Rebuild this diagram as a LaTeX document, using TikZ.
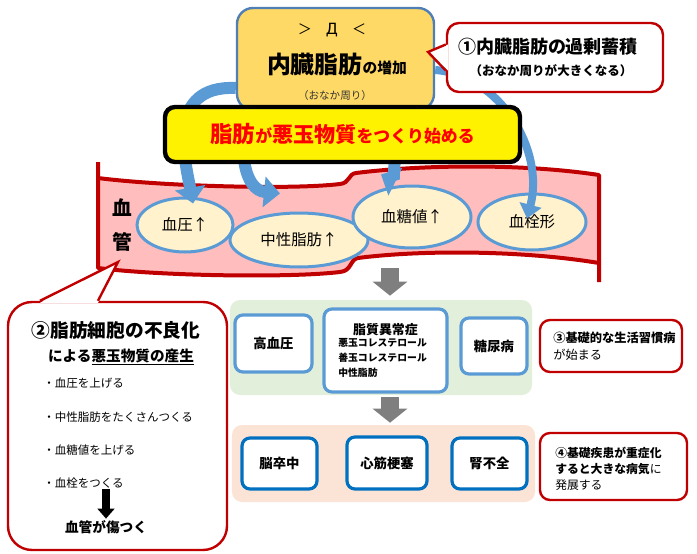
\documentclass[tikz,border=0pt]{standalone}
\usepackage{fontspec}
\setmainfont{Noto Sans CJK JP}
\newfontfamily\cyrfont{DejaVu Sans}
\usetikzlibrary{
    arrows.meta,
    positioning,
    shapes.geometric
}

\definecolor{fatyellow}{HTML}{FFD966}
\definecolor{fatedge}{HTML}{4F7FB5}
\definecolor{alertred}{HTML}{C00000}
\definecolor{vesselpink}{HTML}{FFBDBD}
\definecolor{spotfill}{HTML}{FFF2CC}
\definecolor{spotblue}{HTML}{5B9BD5}
\definecolor{arrowblue}{HTML}{5B9BD5}
\definecolor{greenpanel}{HTML}{E2EFDA}
\definecolor{orangepanel}{HTML}{FBE4D5}
\definecolor{deepblue}{HTML}{0070C0}
\definecolor{downgray}{HTML}{7F7F7F}

\newcommand{\fsz}[1]{\fontsize{#1}{#1}\selectfont}

\begin{document}
\begin{tikzpicture}[
    x=0.25mm, y=-0.25mm,
    spot/.style={
        ellipse,
        draw=spotblue,
        line width=0.75mm,
        fill=spotfill,
        inner sep=0pt,
        font=\fsz{11}
    },
    sickbox/.style={
        rectangle,
        rounded corners=2mm,
        draw=spotblue,
        line width=0.8mm,
        fill=white,
        inner sep=0pt,
        font=\fsz{9.5}\bfseries
    },
    panel/.style={
        rectangle,
        rounded corners=2.5mm,
        inner sep=0pt
    },
    callout/.style={
        rectangle,
        rounded corners=3mm,
        draw=alertred,
        line width=0.6mm,
        fill=white,
        inner sep=0pt
    },
    alertline/.style={
        draw=alertred,
        line width=0.6mm,
        line join=miter
    },
    bluearrow/.style={
        draw=arrowblue,
        line width=3mm,
        -{Triangle[width=7.5mm,length=4mm]}
    },
    grayarrow/.style={
        draw=downgray,
        line width=4.5mm,
        -{Triangle[width=8.5mm,length=3.5mm]}
    },
    blackarrow/.style={
        draw=black,
        line width=2mm,
        -{Triangle[width=4.2mm,length=2.5mm]}
    },
    note/.style={
        inner sep=0pt,
        anchor=west,
        font=\fsz{8.2}
    },
    lipidline/.style={
        inner sep=0pt,
        anchor=west,
        font=\fsz{7}\bfseries
    }
]
\useasboundingbox (0,0) rectangle (697,554);

% =========================================================
% Blood vessel
% =========================================================
\fill[vesselpink] (98,178) .. controls (160,186) and (290,190) .. (340,184)
    .. controls (350,183) and (348,174) .. (356,173)
    .. controls (420,165) and (520,163) .. (599,175) -- (599,263)
    .. controls (520,250) and (420,250) .. (358,258)
    .. controls (350,259) and (352,271) .. (340,272)
    .. controls (290,278) and (160,276) .. (98,268) -- cycle;
\draw[alertred, line width=1mm, line join=round] (98,162) -- (98,178)
    .. controls (160,186) and (290,190) .. (340,184)
    .. controls (350,183) and (348,174) .. (356,173)
    .. controls (420,165) and (520,163) .. (599,175) -- (599,282);
\draw[alertred, line width=1mm, line join=round] (599,263)
    .. controls (520,250) and (420,250) .. (358,258)
    .. controls (350,259) and (352,271) .. (340,272)
    .. controls (290,278) and (160,276) .. (98,268) -- (98,178);

\node[font=\fsz{14}\bfseries, align=center, inner sep=0pt] (vesselname) at (122,225)
{血\\[10.5pt]管};
\coordinate (vesseltip) at (118,262);

\node[spot, minimum width=24mm, minimum height=13.5mm] (bp) at (185,225) {血圧↑};
\node[spot, minimum width=34.5mm, minimum height=13.5mm] (tg) at (299,240) {中性脂肪↑};
\node[spot, minimum width=29.5mm, minimum height=15.5mm] (bs) at (412,217) {血糖値↑};
\node[spot, minimum width=27mm, minimum height=14mm] (clot) at (532,222) {血栓形};

% =========================================================
% Visceral fat and its arrows
% =========================================================
\coordinate (fatcenter) at (335.5,59);

\draw[bluearrow] ([shift={(-83,40)}]fatcenter) .. controls (235,150) and (245,190) .. ([shift={(-19,-18)}]tg.north);
\draw[bluearrow] ([shift={(62,50)}]fatcenter) .. controls (397,150) and (392,180) .. ([shift={(-31,-10)}]bs.north);

\node[rectangle, rounded corners=4mm, draw=fatedge, line width=0.6mm, fill=fatyellow,
    minimum width=49.25mm, minimum height=25.5mm, inner sep=0pt] (fatbox) at (fatcenter) {};

\draw[bluearrow] ([shift={(0,29)}]fatbox.west) .. controls (165,85) and (185,160) .. ([shift={(8,7)}]bp.north);
\draw[bluearrow, line width=2mm, -{Triangle[width=5.5mm,length=3.5mm]}] ([shift={(0,11)}]fatbox.east) .. controls (500,75) and (545,150) .. ([shift={(-5,26)}]clot.north);

\node[font=\fsz{10}, inner sep=0pt] (face) at (332,30) {＞　{\cyrfont\fsz{11}Д}　＜};
\node[font=\bfseries, inner sep=0pt] (fatgain) at (337,64)
{{\fsz{17}内臓脂肪}{\fsz{10.5}の増加}};
\node[font=\fsz{7.5}, text=black!80, inner sep=0pt] (belly) at (335,95) {（おなか周り）};

\node[rectangle, rounded corners=2.5mm, draw=black, line width=1.1mm, fill=yellow,
    minimum width=88.75mm, minimum height=13.75mm, inner sep=0pt, text=red,
    font=\bfseries] (badstuff) at (342.5,134.5)
{{\fsz{16}脂肪}{\fsz{12}が}{\fsz{15}悪玉物質}{\fsz{12}をつくり始める}};

% =========================================================
% Callout 1: fat accumulation
% =========================================================
\coordinate (fattip) at (428,52);
\node[callout, minimum width=54mm, minimum height=17.25mm] (excess) at (555,57.5) {};
\fill[white] ([shift={(2,-13)}]excess.west) -- (fattip) -- ([shift={(2,13)}]excess.west) -- cycle;
\draw[alertline] ([shift={(0,-13)}]excess.west) -- (fattip) -- ([shift={(0,13)}]excess.west);
\node[font=\fsz{12.8}\bfseries, inner sep=0pt] (excesstitle) at (548,47) {①内臓脂肪の過剰蓄積};
\node[font=\fsz{8.9}\bfseries, inner sep=0pt] (excessnote) at (551,71) {（おなか周りが大きくなる）};

% =========================================================
% Callout 2: bad substances
% =========================================================
\node[callout, rounded corners=6mm, minimum width=54.75mm, minimum height=62mm] (badcells) at (117.5,426) {};
\fill[white] ([shift={(-77.5,2)}]badcells.north) -- (vesseltip) -- ([shift={(-19.5,2)}]badcells.north) -- cycle;
\draw[alertline] ([shift={(-77.5,0)}]badcells.north) -- (vesseltip) -- ([shift={(-19.5,0)}]badcells.north);

\node[font=\fsz{13.3}\bfseries, inner sep=0pt] (cellstitle) at (116,330) {②脂肪細胞の不良化};
\node[font=\fsz{10.4}\bfseries, inner sep=0pt] (cellssub) at (121,357) {による\underline{悪玉物質の産生}};
\node[note] (bul1) at (43,383) {・血圧を上げる};
\node[note] (bul2) at (43,417) {・中性脂肪をたくさんつくる};
\node[note] (bul3) at (43,450) {・血糖値を上げる};
\node[note] (bul4) at (43,483) {・血栓をつくる};
\node[font=\fsz{9.7}\bfseries, inner sep=1pt] (damage) at (106,527) {血管が傷つく};
\draw[blackarrow] (damage.north |- bul4.south) -- (damage.north);

% =========================================================
% Lifestyle diseases
% =========================================================
\coordinate (vesselbase) at (390,268);

\node[panel, fill=greenpanel, minimum width=75.5mm, minimum height=23.75mm] (lifestyle) at (381,347.5) {};
\node[sickbox, minimum width=19.25mm, minimum height=14.25mm] (hbp) at (273.5,343.5) {高血圧};
\node[sickbox, minimum width=30.75mm, minimum height=20.75mm] (lipid) at (385.5,350.5) {};
\node[sickbox, minimum width=16.5mm, minimum height=14mm] (dm) at (494,346) {糖尿病};
\node[font=\fsz{9.2}\bfseries, inner sep=0pt] (lipidtitle) at (385.5,330) {脂質異常症};
\node[lipidline] (ldl) at (338,343) {悪玉コレステロール};
\node[lipidline] (hdl) at (338,358) {善玉コレステロール};
\node[lipidline] (lipidtg) at (338,373) {中性脂肪};

\node[panel, fill=orangepanel, minimum width=75.75mm, minimum height=19.25mm] (severe) at (383.5,463.5) {};
\node[sickbox, draw=deepblue, minimum width=18.75mm, minimum height=12.75mm] (stroke) at (279.5,463.5) {脳卒中};
\node[sickbox, draw=deepblue, minimum width=20mm, minimum height=13mm] (mi) at (387,463) {心筋梗塞};
\node[sickbox, draw=deepblue, minimum width=18.75mm, minimum height=12.75mm] (ckd) at (489.5,463.5) {腎不全};

\draw[grayarrow, shorten >=1mm] (vesselbase) -- (vesselbase |- lifestyle.north);
\draw[grayarrow, shorten <=0.5mm, shorten >=0.5mm] (vesselbase |- lifestyle.south) -- (vesselbase |- severe.north);

% =========================================================
% Callouts 3 and 4
% =========================================================
\node[callout, rounded corners=2.5mm, minimum width=35.5mm, minimum height=13mm] (start) at (611,346) {};
\node[anchor=west, align=left, inner sep=0pt, font=\fontsize{8.7}{12}\selectfont] (starttext) at (553,346.5)
{\textbf{③基礎的な生活習慣病}\\が始まる};

\node[callout, rounded corners=2.5mm, minimum width=36.75mm, minimum height=16.75mm] (worse) at (613.5,466.5) {};
\node[anchor=west, align=left, inner sep=0pt, font=\fontsize{8.4}{11.6}\selectfont] (worsetext) at (555,469)
{\textbf{④基礎疾患が重症化}\\\textbf{すると大きな病気}に\\発展する};

\end{tikzpicture}
\end{document}
